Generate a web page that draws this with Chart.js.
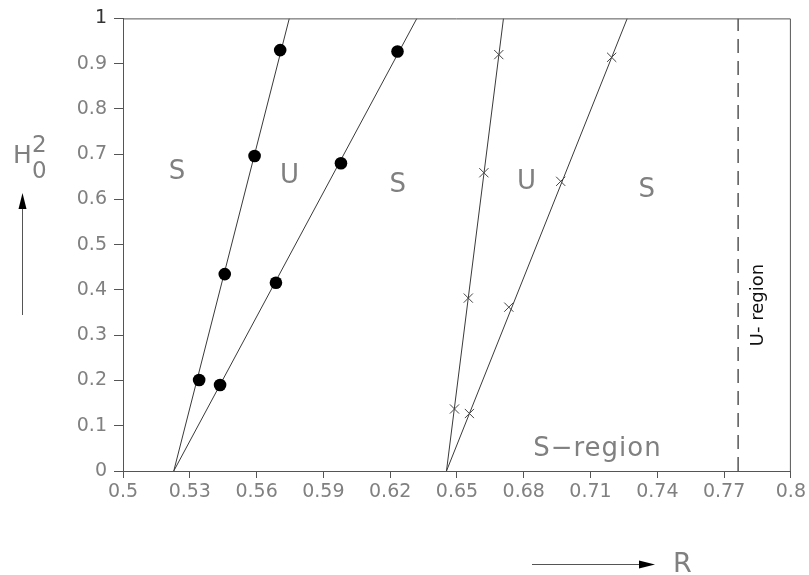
<!DOCTYPE html>
<html>
<head>
<meta charset="utf-8">
<script src="https://cdn.jsdelivr.net/npm/chart.js@4"></script>
<style>
  body { margin: 0; background: #fff; }
  canvas { display: block; }
</style>
</head>
<body>
<canvas id="chart" width="809" height="575"></canvas>
<script>
// axis ticks
const xTicks = [0.5, 0.53, 0.56, 0.59, 0.62, 0.65, 0.68, 0.71, 0.74, 0.77, 0.8];
const yTicks = [0, 0.1, 0.2, 0.3, 0.4, 0.5, 0.6, 0.7, 0.8, 0.9, 1];

// fitted stability boundaries, R at H0^2 = 0 and 1
const lineH = [0, 1];
const lineA = [0.5228, 0.5747];
const lineB = [0.5228, 0.632];
const lineC = [0.6453, 0.6709];
const lineD = [0.6453, 0.7265];

// computed points (dots and crosses)
const dotsAR = [0.5342, 0.5457, 0.5591, 0.5706];
const dotsAH = [0.201, 0.435, 0.696, 0.93];
const dotsBR = [0.5436, 0.5687, 0.5979, 0.6233];
const dotsBH = [0.19, 0.416, 0.68, 0.927];
const crossCR = [0.6489, 0.6551, 0.6621, 0.6688];
const crossCH = [0.137, 0.382, 0.659, 0.92];
const crossDR = [0.6556, 0.6733, 0.6966, 0.7195];
const crossDH = [0.127, 0.362, 0.64, 0.914];

// U-region limit
const uLimitR = 0.7763;

// region letters
const regionText = ["S", "U", "S", "U", "S"];
const regionR = [0.5243, 0.5748, 0.6234, 0.6812, 0.7353];
const regionH = [0.66, 0.651, 0.631, 0.638, 0.62];

const xy = (xs, ys) => xs.map((x, i) => ({ x, y: ys[i] }));

const lineColor = "#3a3a3a";
const axisColor = "#555";
const textColor = "#808080";

const lineSet = (data) => ({
  data,
  showLine: true,
  borderColor: lineColor,
  borderWidth: 1,
  pointRadius: 0,
});
const dotSet = (data) => ({
  data,
  pointStyle: "circle",
  pointRadius: 6.3,
  backgroundColor: "#000",
  borderColor: "#000",
  borderWidth: 0,
});
const crossSet = (data) => ({
  data,
  pointStyle: "crossRot",
  pointRadius: 6.5,
  borderColor: "#444",
  borderWidth: 1,
});

function arrow(ctx, x1, y1, x2, y2, head, half) {
  const ang = Math.atan2(y2 - y1, x2 - x1);
  const bx = x2 - head * Math.cos(ang);
  const by = y2 - head * Math.sin(ang);
  ctx.beginPath();
  ctx.moveTo(x1, y1);
  ctx.lineTo(bx, by);
  ctx.stroke();
  ctx.beginPath();
  ctx.moveTo(x2, y2);
  ctx.lineTo(bx - half * Math.sin(ang), by + half * Math.cos(ang));
  ctx.lineTo(bx + half * Math.sin(ang), by - half * Math.cos(ang));
  ctx.closePath();
  ctx.fill();
}

const decorations = {
  id: "decorations",
  afterDraw(chart) {
    const { ctx, chartArea: a, scales } = chart;
    ctx.save();

    // frame top and right
    ctx.strokeStyle = axisColor;
    ctx.lineWidth = 1;
    ctx.beginPath();
    ctx.moveTo(a.left, a.top + 0.5);
    ctx.lineTo(a.right - 0.5, a.top + 0.5);
    ctx.lineTo(a.right - 0.5, a.bottom);
    ctx.stroke();

    // region letters
    ctx.fillStyle = textColor;
    ctx.textAlign = "center";
    ctx.textBaseline = "middle";
    ctx.font = "26px 'DejaVu Sans'";
    regionText.forEach((t, i) => {
      ctx.fillText(t, scales.x.getPixelForValue(regionR[i]), scales.y.getPixelForValue(regionH[i]));
    });
    ctx.letterSpacing = "1px";
    ctx.fillText("S\u2212region", scales.x.getPixelForValue(0.7131), scales.y.getPixelForValue(0.049));
    ctx.letterSpacing = "0px";

    // U- region, rotated
    ctx.save();
    ctx.translate(scales.x.getPixelForValue(0.7855), 305);
    ctx.rotate(-Math.PI / 2);
    ctx.fillStyle = "#111";
    ctx.font = "18px 'DejaVu Sans'";
    ctx.fillText("U- region", 0, 0);
    ctx.restore();

    // y title H0^2 with arrow
    ctx.fillStyle = textColor;
    ctx.textAlign = "left";
    ctx.textBaseline = "alphabetic";
    ctx.font = "25px 'DejaVu Sans'";
    ctx.fillText("H", 13, 163);
    ctx.font = "23px 'DejaVu Sans'";
    ctx.fillText("2", 32, 152);
    ctx.fillText("0", 32, 178);
    ctx.strokeStyle = "#555";
    ctx.fillStyle = "#000";
    arrow(ctx, 22.5, 315, 22.5, 193, 16, 4);

    // x title R with arrow
    arrow(ctx, 532, 564.5, 655, 564.5, 16, 4);
    ctx.fillStyle = textColor;
    ctx.font = "27px 'DejaVu Sans'";
    ctx.fillText("R", 673, 572);

    ctx.restore();
  },
};

new Chart(document.getElementById("chart"), {
  type: "scatter",
  data: {
    datasets: [
      dotSet(xy(dotsAR, dotsAH)),
      dotSet(xy(dotsBR, dotsBH)),
      crossSet(xy(crossCR, crossCH)),
      crossSet(xy(crossDR, crossDH)),
      lineSet(xy(lineA, lineH)),
      lineSet(xy(lineB, lineH)),
      lineSet(xy(lineC, lineH)),
      lineSet(xy(lineD, lineH)),
      {
        data: xy([uLimitR, uLimitR], lineH),
        showLine: true,
        borderColor: "#555",
        borderWidth: 1.5,
        borderDash: [14, 8],
        pointRadius: 0,
      },
    ],
  },
  options: {
    responsive: false,
    animation: false,
    events: [],
    layout: { padding: { left: 0, top: 15, right: 18, bottom: 0 } },
    plugins: { legend: { display: false }, tooltip: { enabled: false } },
    scales: {
      x: {
        type: "linear",
        min: 0.5,
        max: 0.8,
        afterBuildTicks: (scale) => (scale.ticks = xTicks.map((value) => ({ value }))),
        afterFit: (scale) => (scale.height = 104),
        ticks: {
          color: textColor,
          padding: 3,
          maxRotation: 0,
          autoSkip: false,
          font: { family: "'DejaVu Sans'", size: 19 },
          callback: (v) => String(+v.toFixed(2)),
        },
        grid: { drawOnChartArea: false, drawTicks: true, tickLength: 7, color: axisColor },
        border: { color: axisColor, width: 1 },
      },
      y: {
        type: "linear",
        min: 0,
        max: 1,
        afterBuildTicks: (scale) => (scale.ticks = yTicks.map((value) => ({ value }))),
        afterFit: (scale) => (scale.width = 123),
        ticks: {
          color: (c) => (c.tick.value === 1 ? "#333" : textColor),
          padding: 7,
          autoSkip: false,
          font: { family: "'DejaVu Sans'", size: 19 },
          callback: (v) => String(+v.toFixed(1)),
        },
        grid: { drawOnChartArea: false, drawTicks: true, tickLength: 9, color: axisColor },
        border: { color: axisColor, width: 1 },
      },
    },
  },
  plugins: [decorations],
});
</script>
</body>
</html>
